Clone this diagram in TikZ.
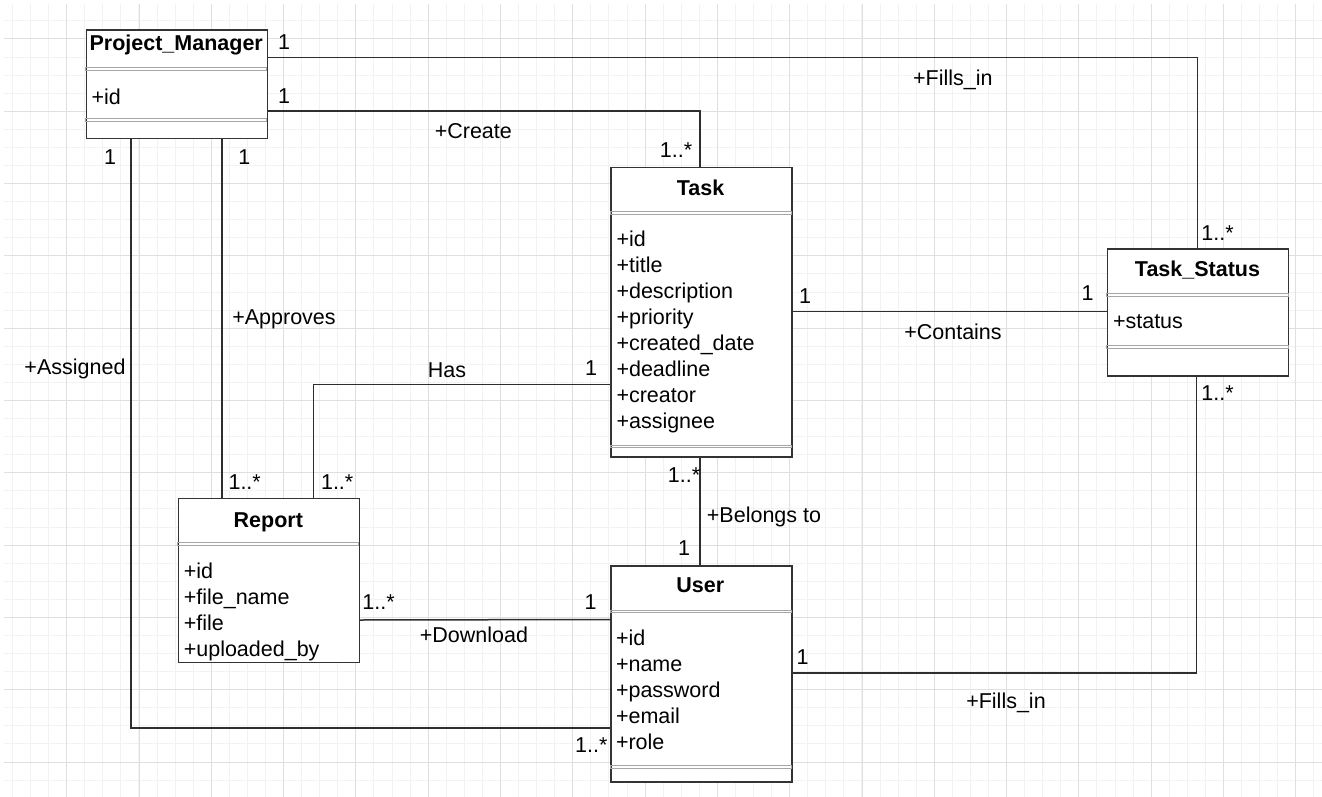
\documentclass[tikz,border=0pt]{standalone}
\usepackage{fontspec}
\setmainfont{Liberation Sans}
\usetikzlibrary{calc}
\tikzset{
  grminor/.style={draw=gray!10, line width=1},
  grmajor/.style={draw=gray!25, line width=1},
  cls/.style={draw=black!80, line width=1.5, fill=white, rectangle, anchor=north west,
              minimum width=181, minimum height=#1, inner sep=0},
  sepbar/.style={draw=gray!70, line width=0.9},
  ttl/.style={font=\fontsize{21.5}{26}\selectfont\bfseries, inner sep=0, text height=15, text depth=0},
  attr/.style={font=\fontsize{21.5}{26}\selectfont, inner sep=0, text height=15, text depth=0, anchor=west},
  lbl/.style={font=\fontsize{21.5}{26}\selectfont, inner sep=0, text height=15, text depth=0},
  conn/.style={draw=black!82, line width=1.5},
}
\begin{document}
\begin{tikzpicture}[x=1pt, y=-1pt]
\useasboundingbox[fill=white] (0,0) rectangle (1322,797);
% grid
\begin{scope}
  \clip (4,4) rectangle (1322,797);
  \foreach \i in {0,...,73} \draw[grminor] ({12.45+\i*18.075},4) -- ({12.45+\i*18.075},797);
  \foreach \i in {0,...,44} \draw[grminor] (4,{2.85+\i*18.075}) -- (1322,{2.85+\i*18.075});
  \foreach \i in {0,...,17} \draw[grmajor] ({66.7+\i*72.3},4) -- ({66.7+\i*72.3},797);
  \foreach \i in {0,...,10} \draw[grmajor] (4,{39+\i*72.3}) -- (1322,{39+\i*72.3});
\end{scope}

% class boxes
\node[cls=108.4] (pm) at (85.7,29.3) {};
\node[cls=289.3] (task) at (610,166.7) {};
\node[cls=126.7] (ts) at (1106.7,248.3) {};
\node[cls=164] (rep) at (177.7,497.7) {};
\node[cls=216] (user) at (610,565) {};

% separators
\draw[sepbar] ($(pm.north west)+(0,37.7)$) rectangle ++(181,3.2);
\draw[sepbar] ($(pm.north west)+(0,89)$) rectangle ++(181,3.2);
\draw[sepbar] ($(task.north west)+(0,44.3)$) rectangle ++(181,3);
\draw[sepbar] ($(task.north west)+(0,278.3)$) rectangle ++(181,2.8);
\draw[sepbar] ($(ts.north west)+(0,45)$) rectangle ++(181.6,3.2);
\draw[sepbar] ($(ts.north west)+(0,96.7)$) rectangle ++(181.6,3.2);
\draw[sepbar] ($(rep.north west)+(0,45)$) rectangle ++(181,2.8);
\draw[sepbar] ($(user.north west)+(0,45)$) rectangle ++(181,2.8);
\draw[sepbar] ($(user.north west)+(0,200)$) rectangle ++(181,3.2);

% titles
\node[ttl] (pmt) at (176.2,43) {Project\_Manager};
\node[ttl] (taskt) at (700.5,188) {Task};
\node[ttl] (tst) at (1197.5,268.5) {Task\_Status};
\node[ttl] (rept) at (268.3,519.5) {Report};
\node[ttl] (usert) at (700.3,584.5) {User};

% attributes
\node[attr] (pma0) at (91.3,96.7) {+id};
\foreach \t [count=\i from 0] in {+id,+title,+description,+priority,+created\_date,+deadline,+creator,+assignee}
  \node[attr] (taska\i) at (616.3,{239.3+26*\i}) {\t};
\node[attr] (tsa0) at (1112.8,321) {+status};
\foreach \t [count=\i from 0] in {+id,+file\_name,+file,+uploaded\_by}
  \node[attr] (repa\i) at (183.6,{571+26*\i}) {\t};
\foreach \t [count=\i from 0] in {+id,+name,+password,+email,+role}
  \node[attr] (usera\i) at (615.8,{637.7+26*\i}) {\t};

% connection points
\coordinate (pmR1) at ($(pm.north east)+(0,28.2)$);
\coordinate (pmR2) at ($(pm.north east)+(0,81.8)$);
\coordinate (pmB1) at ($(pm.south west)+(45.3,0)$);
\coordinate (pmB2) at ($(pm.south west)+(136.3,0)$);
\coordinate (tsT) at ($(ts.north west)+(90.8,0)$);
\coordinate (tsB) at ($(ts.south west)+(89.8,0)$);
\coordinate (tsL) at ($(ts.north west)+(0,63.4)$);
\coordinate (taskT) at ($(task.north west)+(90,0)$);
\coordinate (taskB) at ($(task.south west)+(90,0)$);
\coordinate (taskL) at ($(task.north west)+(0,217.6)$);
\coordinate (taskR) at ($(task.north east)+(0,145)$);
\coordinate (repT1) at ($(rep.north west)+(44.3,0)$);
\coordinate (repT2) at ($(rep.north west)+(135.8,0)$);
\coordinate (repR) at ($(rep.north east)+(0,122.3)$);
\coordinate (userT) at ($(user.north west)+(90,0)$);
\coordinate (userL1) at ($(user.north west)+(0,54.5)$);
\coordinate (userL2) at ($(user.north west)+(0,163)$);
\coordinate (userR) at ($(user.north east)+(0,108)$);

% connectors
\draw[conn] (pmR1) -| (tsT);
\draw[conn] (pmR2) -| (taskT);
\draw[conn] (pmB2) -- (pmB2 |- repT1);
\draw[conn] (pmB1) |- (userL2);
\draw[conn] (taskL) -| (repT2);
\draw[conn] (taskR) -- (tsL);
\draw[conn] (taskB) -- (userT);
\draw[conn] (repR) -- (userL1);
\draw[conn] (userR) -| (tsB);

% labels
\node[lbl] (l1) at (284,42) {1};
\node[lbl] (l2) at (284,96) {1};
\node[lbl] (l3) at (952.8,78) {+Fills\_in};
\node[lbl] (l4) at (473.3,131) {+Create};
\node[lbl] (l5) at (676,150) {1..*};
\node[lbl] (l6) at (110,157.3) {1};
\node[lbl] (l7) at (244.3,157.3) {1};
\node[lbl] (l8) at (1217.5,232.7) {1..*};
\node[lbl] (l9) at (284,317) {+Approves};
\node[lbl] (l10) at (805,296) {1};
\node[lbl] (l11) at (1087.5,293.3) {1};
\node[lbl] (l12) at (953,332) {+Contains};
\node[lbl] (l13) at (75,367) {+Assigned};
\node[lbl] (l14) at (447,370) {Has};
\node[lbl] (l15) at (591,367.5) {1};
\node[lbl] (l16) at (1217.5,393) {1..*};
\node[lbl] (l17) at (244.7,481.7) {1..*};
\node[lbl] (l18) at (337.2,481.7) {1..*};
\node[lbl] (l19) at (684,475) {1..*};
\node[lbl] (l20) at (764,515) {+Belongs to};
\node[lbl] (l21) at (684,548) {1};
\node[lbl] (l22) at (378.5,601.7) {1..*};
\node[lbl] (l23) at (590.7,601.7) {1};
\node[lbl] (l24) at (474,635) {+Download};
\node[lbl] (l25) at (802.7,657.3) {1};
\node[lbl] (l26) at (1006,701) {+Fills\_in};
\node[lbl] (l27) at (591.3,745) {1..*};
\end{tikzpicture}
\end{document}
